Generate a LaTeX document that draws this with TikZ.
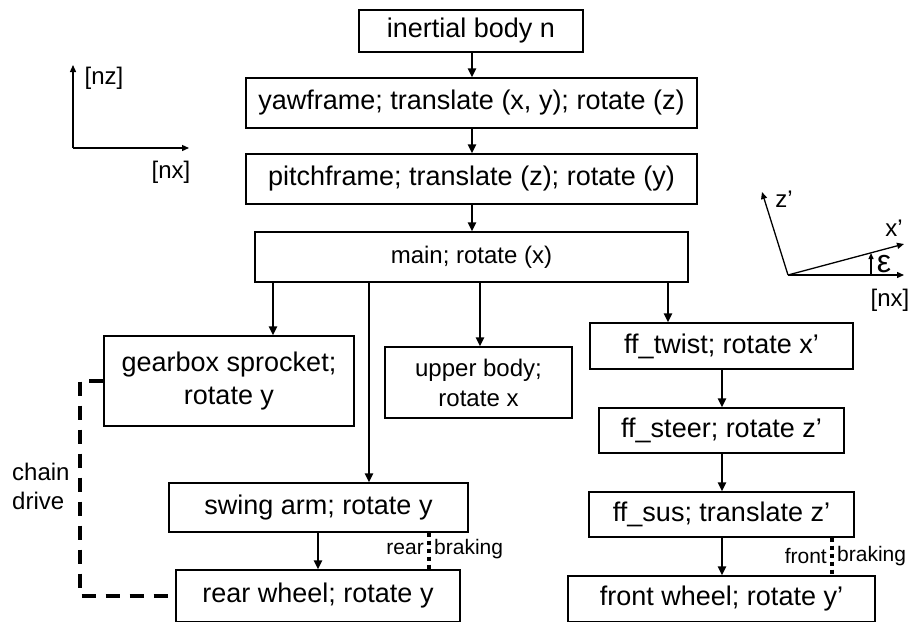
\documentclass[tikz,border=0pt]{standalone}
\usepackage{fontspec}
\setmainfont{Liberation Sans}
\usetikzlibrary{arrows.meta,calc}
\begin{document}
\begin{tikzpicture}[x=1pt,y=-1pt,
  box/.style={draw, line width=1.3pt, inner sep=0pt, align=center, font=\fontsize{27}{33}\selectfont},
  sbox/.style={box, font=\fontsize{24}{30}\selectfont},
  arr/.style={line width=2.4pt, -{Triangle[length=9pt,width=8pt]}},
  axis/.style={line width=1.3pt, -{Triangle[length=7pt,width=6pt]}},
  lbl/.style={inner sep=0pt, font=\fontsize{24}{29}\selectfont},
  slbl/.style={inner sep=0pt, font=\fontsize{21}{25}\selectfont},
  chain/.style={line width=3.8pt, dash pattern=on 14pt off 10pt},
  brake/.style={line width=3.2pt, dash pattern=on 4pt off 4pt}]
\useasboundingbox (0,0) rectangle (915,621);
% boxes
\node[box, minimum width=224pt, minimum height=42pt] (inertial) at (471,31) {inertial body n};
\node[box, minimum width=451pt, minimum height=50pt] (yaw) at (471.5,103) {yawframe; translate (x, y); rotate (z)};
\node[box, minimum width=451pt, minimum height=50pt] (pitch) at (471.5,179) {pitchframe; translate (z); rotate (y)};
\node[sbox, minimum width=433pt, minimum height=50pt] (main) at (471.5,257) {main; rotate (x)};
\node[box, minimum width=250pt, minimum height=90pt] (gear) at (229,381) {gearbox sprocket;\\rotate y};
\node[sbox, minimum width=187pt, minimum height=71pt] (upper) at (478.5,382.5) {upper body;\\rotate x};
\node[box, minimum width=299pt, minimum height=49pt] (swing) at (318.5,507.5) {swing arm; rotate y};
\node[box, minimum width=284pt, minimum height=52pt] (rear) at (318,596) {rear wheel; rotate y};
\node[box, minimum width=263pt, minimum height=46pt] (twist) at (721.5,346) {ff\_twist; rotate x’};
\node[box, minimum width=245pt, minimum height=45pt] (steer) at (721.5,430.5) {ff\_steer; rotate z’};
\node[box, minimum width=265pt, minimum height=45pt] (sus) at (721.5,514.5) {ff\_sus; translate z’};
\node[box, minimum width=307pt, minimum height=46pt] (front) at (721.5,599) {front wheel; rotate y’};
% connectors
\draw[arr] (inertial.south -| 472,0) -- (yaw.north -| 472,0);
\draw[arr] (yaw.south -| 472,0) -- (pitch.north -| 472,0);
\draw[arr] (pitch.south -| 472,0) -- (main.north -| 472,0);
\draw[arr] (main.south -| 273,0) -- (gear.north -| 273,0);
\draw[arr] (main.south -| 369,0) -- (swing.north -| 369,0);
\draw[arr] (main.south -| 480,0) -- (upper.north -| 480,0);
\draw[arr] (main.south -| 668,0) -- (twist.north -| 668,0);
\draw[arr] (twist.south -| 722,0) -- (steer.north -| 722,0);
\draw[arr] (steer.south -| 722,0) -- (sus.north -| 722,0);
\draw[arr] (sus.south -| 722,0) -- (front.north -| 722,0);
\draw[arr] (swing.south -| 318,0) -- (rear.north -| 318,0);
% braking
\draw[brake] (swing.south -| 429,0) -- (rear.north -| 429,0);
\node[slbl, anchor=east] (rearl) at (424,549) {rear};
\node[slbl, anchor=west] (rearb) at (434,549) {braking};
\draw[brake] (sus.south -| 832,0) -- (front.north -| 832,0);
\node[slbl, anchor=east] (frontl) at (827,556) {front};
\node[slbl, anchor=west] (frontb) at (837,556) {braking};
% chain drive
\coordinate (ch) at (80,0);
\draw[chain] (gear.west) -- (gear.west -| ch) |- (rear.west);
\node[lbl, align=left, anchor=west] (chainl) at (12,486) {chain\\drive};
% left axes
\coordinate (o1) at (73,148);
\coordinate (nz) at (73,65);
\coordinate (nx) at (189,148);
\draw[axis] (o1) -- (nz);
\draw[axis] (o1) -- (nx);
\node[lbl] (nzl) at (104,78) {[nz]};
\node[lbl] (nxl) at (171,172) {[nx]};
% right axes
\coordinate (o2) at (788,275);
\coordinate (zp) at (762,192);
\coordinate (xp) at (904,244);
\coordinate (nx2) at (904,275);
\coordinate (eb) at (871,275);
\coordinate (et) at (871,253);
\draw[axis] (o2) -- (zp);
\draw[axis] (o2) -- (xp);
\draw[axis] (o2) -- (nx2);
\draw[line width=1.3pt, -{Triangle[length=6pt,width=5pt]}] (eb) -- (et);
\node[lbl] (zpl) at (784,199) {z’};
\node[lbl] (xpl) at (894,228) {x’};
\node[inner sep=0pt, font=\fontsize{32}{32}\selectfont] (eps) at (884,264) {ε};
\node[lbl] (nx2l) at (890,300) {[nx]};
\end{tikzpicture}
\end{document}
